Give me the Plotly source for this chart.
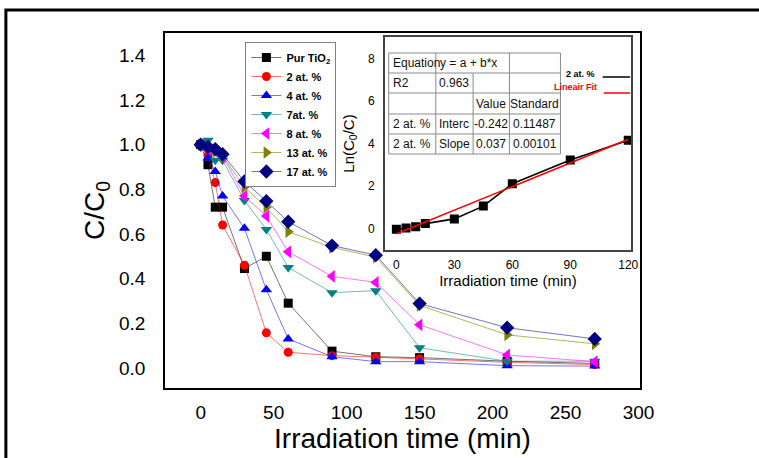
import numpy as np
import plotly.graph_objects as go

W, H = 759, 458

# ---------------- data ----------------
time_min = [0, 5, 10, 15, 30, 45, 60, 90, 120, 150, 210, 270]

series_names = ["Pur TiO<sub>2</sub>", "2 at. %", "4 at. %", "7at. %", "8 at. %", "13 at. %", "17 at. %"]
pur_tio2 = [1.00, 0.91, 0.72, 0.72, 0.445, 0.50, 0.29, 0.075, 0.05, 0.046, 0.03, 0.02]
at2 = [1.00, 0.95, 0.83, 0.64, 0.46, 0.157, 0.07, 0.055, 0.048, 0.04, 0.025, 0.015]
at4 = [1.00, 0.94, 0.88, 0.77, 0.625, 0.35, 0.13, 0.05, 0.028, 0.028, 0.01, 0.008]
at7 = [1.00, 1.02, 0.93, 0.93, 0.75, 0.62, 0.45, 0.337, 0.346, 0.09, 0.03, 0.03]
at8 = [1.00, 0.98, 0.97, 0.95, 0.77, 0.68, 0.52, 0.41, 0.383, 0.193, 0.058, 0.028]
at13 = [1.00, 0.99, 0.97, 0.95, 0.81, 0.72, 0.61, 0.54, 0.496, 0.28, 0.148, 0.108]
at17 = [1.00, 0.99, 0.98, 0.957, 0.835, 0.747, 0.655, 0.548, 0.505, 0.288, 0.18, 0.13]
series_values = [pur_tio2, at2, at4, at7, at8, at13, at17]

x_ticks = [0, 50, 100, 150, 200, 250, 300]
y_ticks = [0.0, 0.2, 0.4, 0.6, 0.8, 1.0, 1.2, 1.4]

inset_time = [0, 5, 10, 15, 30, 45, 60, 90, 120]
inset_ln = [-0.03, 0.03, 0.09, 0.24, 0.46, 1.06, 2.11, 3.23, 4.15]
fit_intercept = -0.242
fit_slope = 0.037
inset_x_ticks = [0, 30, 60, 90, 120]
inset_y_ticks = [0, 2, 4, 6, 8]

table_rows = [
    ["Equation", "y = a + b*x", "", ""],
    ["R2", "0.963", "", ""],
    ["", "", "Value", "Standard"],
    ["2 at. %", "Interc", "-0.242", "0.11487"],
    ["2 at. %", "Slope", "0.037", "0.00101"],
]

# ---------------- styles ----------------
colors = ["#000000", "#FF0000", "#0000FF", "#008080", "#FF00FF", "#808000", "#000080"]
line_colors = ["rgba(0,0,0,0.55)", "rgba(255,0,0,0.55)", "rgba(0,0,255,0.55)",
               "rgba(0,128,128,0.55)", "rgba(255,0,255,0.55)", "rgba(128,128,0,0.6)",
               "rgba(0,0,128,0.55)"]
symbols = ["square", "circle", "triangle-up", "triangle-down", "triangle-left", "triangle-right", "diamond"]
sizes = [9, 9, 10, 10, 11, 11, 11]

FONT = "Arial, Liberation Sans, sans-serif"


def px(x):
    return x / W


def py(y):
    return 1 - y / H


fig = go.Figure()

for name, vals, c, lc, sym, sz in zip(series_names, series_values, colors, line_colors, symbols, sizes):
    fig.add_trace(go.Scatter(
        x=time_min, y=vals, name=name, mode="lines+markers",
        line=dict(color=lc, width=1),
        marker=dict(symbol=sym, size=sz, color=c, line=dict(width=0)),
        xaxis="x", yaxis="y",
    ))

# inset
fig.add_trace(go.Scatter(
    x=inset_time, y=inset_ln, mode="lines+markers", showlegend=False,
    line=dict(color="black", width=1.6),
    marker=dict(symbol="square", size=9, color="black"),
    xaxis="x2", yaxis="y2",
))
fit_x = np.array([inset_time[0], inset_time[-1]], dtype=float)
fig.add_trace(go.Scatter(
    x=fit_x, y=fit_intercept + fit_slope * fit_x, mode="lines", showlegend=False,
    line=dict(color="#FF0000", width=1.6),
    xaxis="x2", yaxis="y2",
))

main_axis = dict(showline=True, mirror=True, linecolor="black", linewidth=1.5,
                 ticks="", showgrid=False, zeroline=False,
                 tickfont=dict(family=FONT, size=19, color="black"))

fig.update_layout(
    width=W, height=H,
    margin=dict(l=0, r=0, t=0, b=0),
    paper_bgcolor="white", plot_bgcolor="white",
    font=dict(family=FONT, color="black"),
    xaxis=dict(main_axis, domain=[px(168), px(652)], range=[-24.5, 301],
               tickvals=x_ticks, ticklabelstandoff=6,
               title=dict(text="Irradiation time (min)", font=dict(size=28), standoff=6),
               anchor="y"),
    yaxis=dict(main_axis, domain=[py(388), py(33)], range=[-0.09, 1.5],
               tickvals=y_ticks, tickformat=".1f", ticklabelstandoff=14,
               title=dict(text="C/C<sub>0</sub>", font=dict(size=28), standoff=6),
               anchor="x"),
    xaxis2=dict(domain=[px(392), px(643)], range=[-6, 121.5], anchor="y2",
                showline=True, mirror=True, linecolor="#444", linewidth=1.5,
                ticks="", showgrid=False, zeroline=False, tickvals=inset_x_ticks,
                tickfont=dict(family=FONT, size=12), ticklabelstandoff=3,
                title=dict(text="Irradiation time (min)", font=dict(size=15), standoff=2)),
    yaxis2=dict(domain=[py(250), py(37)], range=[-1, 9], anchor="x2",
                showline=True, mirror=True, linecolor="#444", linewidth=1.5,
                ticks="", showgrid=False, zeroline=False, tickvals=inset_y_ticks,
                tickfont=dict(family=FONT, size=12), ticklabelstandoff=6,
                title=dict(text="Ln(C<sub>0</sub>/C)", font=dict(size=15), standoff=10)),
    legend=dict(x=px(250), y=py(42), xanchor="left", yanchor="top",
                bgcolor="white", bordercolor="#808080", borderwidth=1,
                font=dict(family=FONT, size=11, color="black", weight="bold"),
                itemwidth=30, tracegroupgap=0),
)

shapes = []
# outer frame
shapes.append(dict(type="rect", xref="paper", yref="paper", x0=px(6), x1=1.05, y0=-0.1, y1=py(10),
                   line=dict(color="black", width=3)))
# table
T_x = [396, 444, 482, 519, 571]
T_y = [53, 73, 93, 114, 134, 154]
tl = dict(color="#8a8a8a", width=1)
shapes.append(dict(type="rect", xref="paper", yref="paper", x0=px(T_x[0]), x1=px(T_x[-1]),
                   y0=py(T_y[-1]), y1=py(T_y[0]), line=tl, fillcolor="white", layer="above"))
for yy in T_y[1:-1]:
    shapes.append(dict(type="line", xref="paper", yref="paper", x0=px(T_x[0]), x1=px(T_x[-1]),
                       y0=py(yy), y1=py(yy), line=tl))
for xx in T_x[1:-1]:
    top = T_y[1] if xx == 482 else T_y[0]
    shapes.append(dict(type="line", xref="paper", yref="paper", x0=px(xx), x1=px(xx),
                       y0=py(T_y[-1]), y1=py(top), line=tl))
# inset legend lines
shapes.append(dict(type="line", xref="paper", yref="paper", x0=px(614), x1=px(642),
                   y0=py(77), y1=py(77), line=dict(color="black", width=1.5)))
shapes.append(dict(type="line", xref="paper", yref="paper", x0=px(615), x1=px(642),
                   y0=py(93), y1=py(93), line=dict(color="#FF0000", width=1.5)))

annotations = []
for r, row in enumerate(table_rows):
    yc = (T_y[r] + T_y[r + 1]) / 2
    for c, txt in enumerate(row):
        if not txt:
            continue
        if c == 0 or (r == 0 and c == 1):
            xx, anc = T_x[c] + 2, "left"
        else:
            xx, anc = (T_x[c] + T_x[c + 1]) / 2, "center"
        annotations.append(dict(text=txt, xref="paper", yref="paper", x=px(xx), y=py(yc),
                                xanchor=anc, yanchor="middle", showarrow=False,
                                font=dict(family=FONT, size=12, color="#111")))
annotations.append(dict(text="<b>2 at. %</b>", xref="paper", yref="paper", x=px(608), y=py(74),
                        xanchor="right", yanchor="middle", showarrow=False,
                        font=dict(family=FONT, size=9, color="black")))
annotations.append(dict(text="<b>Lineair Fit</b>", xref="paper", yref="paper", x=px(610), y=py(87),
                        xanchor="right", yanchor="middle", showarrow=False,
                        font=dict(family=FONT, size=9, color="#FF0000")))

fig.update_layout(shapes=shapes, annotations=annotations)

# remove the default page margin so the 759x458 figure fills the window exactly
fig.write_html("out.html", config={"displayModeBar": False},
               post_script="document.body.style.margin='0px';document.body.style.overflow='hidden';")
